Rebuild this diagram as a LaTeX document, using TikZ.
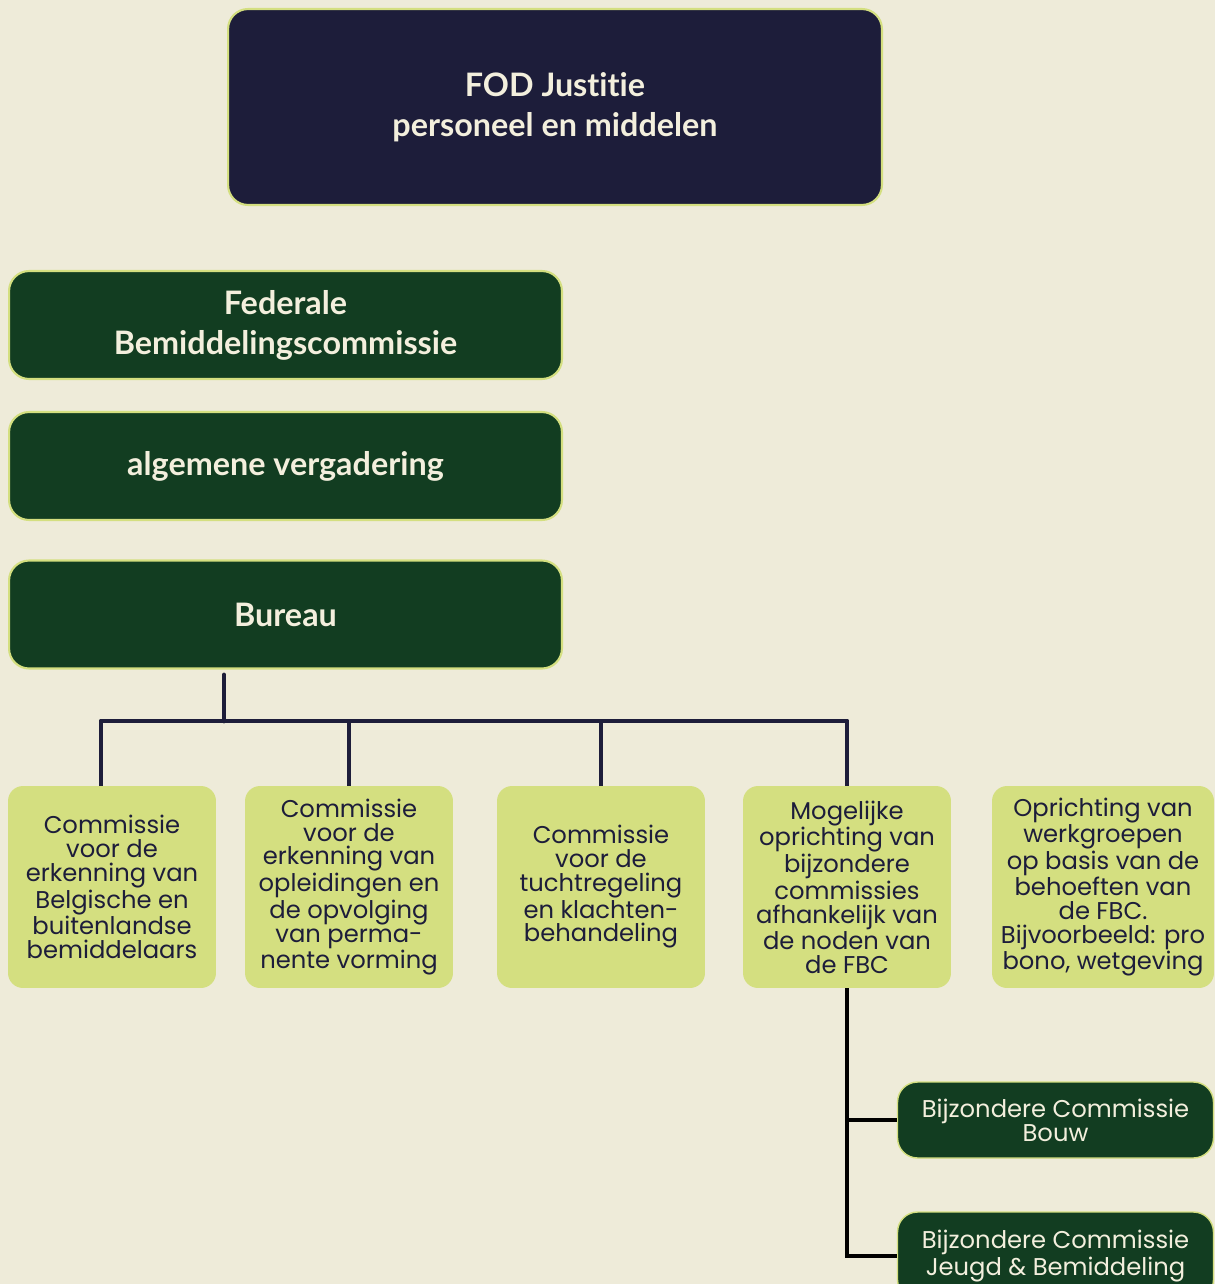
\documentclass[tikz,border=0pt]{standalone}
\usepackage{fontspec}
\setmainfont{Poppins}
\newfontfamily\headfont[Ligatures=NoCommon]{Lato}
\usetikzlibrary{positioning}

\definecolor{paper}{HTML}{EEEBD9}
\definecolor{navy}{HTML}{1D1D3A}
\definecolor{forest}{HTML}{123D21}
\definecolor{lime}{HTML}{D4DF80}
\definecolor{cream}{HTML}{F3EFDD}

\tikzset{
  headbox/.style={draw=lime, line width=1.2pt, rounded corners=0.4cm, text=cream,
    font=\headfont\bfseries\fontsize{18.4}{22.7}\selectfont, align=center, inner sep=0pt},
  topbox/.style={headbox, fill=navy, minimum width=13.08cm, minimum height=3.92cm},
  greenbox/.style={headbox, fill=forest, minimum width=11.06cm, minimum height=2.16cm},
  commbox/.style={fill=lime, rounded corners=0.3cm, text=navy, align=center, inner sep=0pt,
    font=\fontsize{13.8}{13.6}\selectfont, minimum width=4.16cm, minimum height=4.04cm},
  subbox/.style={draw=lime, line width=0.8pt, fill=forest, rounded corners=0.4cm, text=cream,
    align=center, inner sep=0pt, font=\fontsize{13.8}{13.6}\selectfont,
    minimum width=6.32cm},
  conn/.style={navy, line width=2.8pt},
  subconn/.style={black, line width=2.8pt}
}

\begin{document}
\begin{tikzpicture}[x=0.02cm, y=-0.02cm]
\fill[paper] (0,0) rectangle (1215,1284);
\useasboundingbox (0,0) rectangle (1215,1284);

% top of the structure
\node[topbox] (fod) at (555,107) {FOD Justitie\\personeel en middelen};
\node[greenbox] (fbc) at (285.5,325) {Federale\\Bemiddelingscommissie};
\node[greenbox] (av) at (285.5,466) {algemene vergadering};
\node[greenbox] (bureau) at (285.5,614.5) {Bureau};

% commissions
\node[commbox] (c1) at (112,887) {Commissie\\voor de\\erkenning van\\Belgische en\\buitenlandse\\bemiddelaars};
\node[commbox] (c2) at (349,887) {Commissie\\voor de\\erkenning van\\opleidingen en\\de opvolging\\van perma-\\nente vorming};
\node[commbox] (c3) at (601,887) {Commissie\\voor de\\tuchtregeling\\en klachten-\\behandeling};
\node[commbox] (c4) at (847,887) {Mogelijke\\oprichting van\\bijzondere\\commissies\\afhankelijk van\\de noden van\\de FBC};
\node[commbox, minimum width=4.44cm] (c5) at (1103,887) {Oprichting van\\werkgroepen\\op basis van de\\behoeften van\\de FBC.\\Bijvoorbeeld: pro\\bono, wetgeving};

% special commissions
\node[subbox, minimum height=1.52cm] (bouw) at (1055.5,1120) {Bijzondere Commissie\\Bouw};
\node[subbox, minimum height=1.76cm] (jeugd) at (1055.5,1256) {Bijzondere Commissie\\Jeugd \& Bemiddeling};

% connectors
\coordinate (bus) at (224,721);
\draw[conn, line cap=round] (bus |- 0,675) -- (bus);
\draw[conn, line join=round] ([xshift=-0.22cm]c1.north) -- ([xshift=-0.22cm]c1.north |- bus)
  -- (c4.north |- bus) -- (c4.north);
\foreach \n in {c2,c3}
  \draw[conn] (\n.north) -- (\n.north |- bus);

\draw[subconn] (c4.south) |- (jeugd.west);
\draw[subconn] (c4.south |- bouw.west) -- (bouw.west);
\end{tikzpicture}
\end{document}
